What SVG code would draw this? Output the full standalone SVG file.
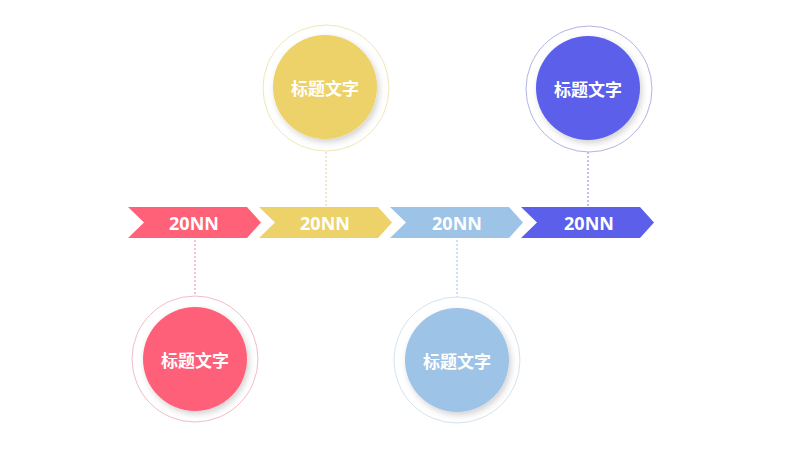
<svg xmlns="http://www.w3.org/2000/svg" width="800" height="450" viewBox="0 0 800 450">
<defs>
<filter id="sh" x="-30%" y="-30%" width="160%" height="160%">
<feDropShadow dx="2" dy="3" stdDeviation="3" flood-color="#000" flood-opacity="0.18"/>
</filter>
<style>
.yr{font-family:"Open Sans","Liberation Sans",sans-serif;font-weight:bold;font-size:18px;fill:#fff;text-anchor:middle;dominant-baseline:central}
.tt{font-family:"Noto Sans CJK SC","Noto Sans",sans-serif;font-weight:bold;font-size:17px;fill:#fff;text-anchor:middle;dominant-baseline:central}
.ring{fill:#fff;stroke-width:1}
.dot{stroke-width:1;stroke-dasharray:2 2;fill:none}
</style>
</defs>
<rect width="800" height="450" fill="#fff"/>
<g id="connectors">
<line class="dot" x1="195" y1="240" x2="195" y2="296" stroke="#F08A9C"/>
<line class="dot" x1="326" y1="152" x2="326" y2="207" stroke="#E3D48A"/>
<line class="dot" x1="457" y1="240" x2="457" y2="297" stroke="#9DC3E6"/>
<line class="dot" x1="588" y1="152" x2="588" y2="207" stroke="#8587E0"/>
</g>
<g id="arrow1">
<polygon points="128,207 247,207 261,222.5 247,238 128,238 144,222.5" fill="#FF6179"/>
<text class="yr" x="194" y="222.5">20NN</text>
</g>
<g id="arrow2">
<polygon points="259,207 378,207 392,222.5 378,238 259,238 275,222.5" fill="#EDD269"/>
<text class="yr" x="325" y="222.5">20NN</text>
</g>
<g id="arrow3">
<polygon points="390,207 509,207 523,222.5 509,238 390,238 406,222.5" fill="#9DC3E6"/>
<text class="yr" x="457" y="222.5">20NN</text>
</g>
<g id="arrow4">
<polygon points="521,207 640,207 654,222.5 640,238 521,238 537,222.5" fill="#5B5FEA"/>
<text class="yr" x="589" y="222.5">20NN</text>
</g>
<g id="node1">
<circle class="ring" cx="195" cy="359" r="63" stroke="#F2BCC8"/>
<circle cx="195" cy="359" r="52" fill="#FF6179" filter="url(#sh)"/>
<text class="tt" x="195" y="359">标题文字</text>
</g>
<g id="node2">
<circle class="ring" cx="326" cy="88" r="63" stroke="#EEE7B8"/>
<circle cx="325" cy="87" r="52" fill="#EDD269" filter="url(#sh)"/>
<text class="tt" x="325" y="87">标题文字</text>
</g>
<g id="node3">
<circle class="ring" cx="457" cy="360" r="63" stroke="#D3E3EF"/>
<circle cx="457" cy="360" r="52" fill="#9DC3E6" filter="url(#sh)"/>
<text class="tt" x="457" y="360">标题文字</text>
</g>
<g id="node4">
<circle class="ring" cx="589" cy="89" r="63" stroke="#B2B3E6"/>
<circle cx="588" cy="88" r="52" fill="#5B5FEA" filter="url(#sh)"/>
<text class="tt" x="588" y="88">标题文字</text>
</g>
</svg>
